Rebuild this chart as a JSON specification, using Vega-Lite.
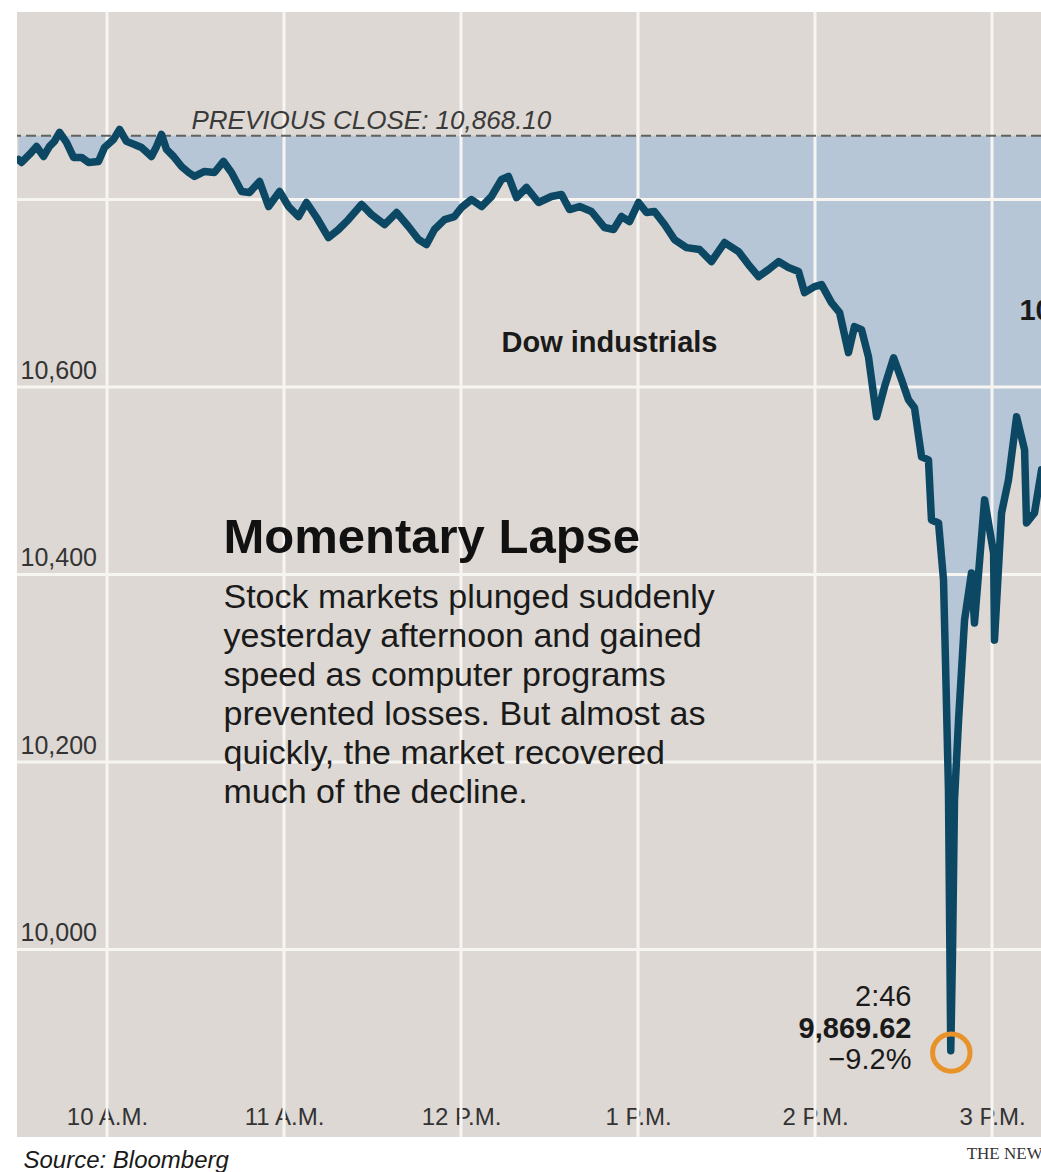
{
  "$schema": "https://vega.github.io/schema/vega-lite/v6.json",
  "width": 1024,
  "height": 1125,
  "autosize": {"type": "none"},
  "padding": {"left": 17, "top": 12, "right": 0, "bottom": 35},
  "background": "#ffffff",
  "config": {
    "view": {"fill": "#ddd8d3", "stroke": null},
    "font": "Liberation Sans"
  },
  "datasets": {
    "dow": [
      {"hour": 9.5, "v": 10842.7},
      {"hour": 9.517, "v": 10839.5},
      {"hour": 9.562, "v": 10848.1},
      {"hour": 9.602, "v": 10856.6},
      {"hour": 9.641, "v": 10845.9},
      {"hour": 9.675, "v": 10856.6},
      {"hour": 9.703, "v": 10862.0},
      {"hour": 9.732, "v": 10871.6},
      {"hour": 9.771, "v": 10860.9},
      {"hour": 9.811, "v": 10844.9},
      {"hour": 9.856, "v": 10844.9},
      {"hour": 9.896, "v": 10839.5},
      {"hour": 9.952, "v": 10840.6},
      {"hour": 9.986, "v": 10855.5},
      {"hour": 10.037, "v": 10864.1},
      {"hour": 10.071, "v": 10874.8},
      {"hour": 10.110, "v": 10862.0},
      {"hour": 10.155, "v": 10858.7},
      {"hour": 10.195, "v": 10855.5},
      {"hour": 10.251, "v": 10845.9},
      {"hour": 10.280, "v": 10856.6},
      {"hour": 10.308, "v": 10869.4},
      {"hour": 10.336, "v": 10853.4},
      {"hour": 10.376, "v": 10845.9},
      {"hour": 10.421, "v": 10835.2},
      {"hour": 10.461, "v": 10828.8},
      {"hour": 10.494, "v": 10824.6},
      {"hour": 10.551, "v": 10829.9},
      {"hour": 10.607, "v": 10828.8},
      {"hour": 10.658, "v": 10840.6},
      {"hour": 10.703, "v": 10828.8},
      {"hour": 10.760, "v": 10808.5},
      {"hour": 10.805, "v": 10807.5},
      {"hour": 10.862, "v": 10819.2},
      {"hour": 10.913, "v": 10792.5},
      {"hour": 10.975, "v": 10808.5},
      {"hour": 11.026, "v": 10792.5},
      {"hour": 11.082, "v": 10781.8},
      {"hour": 11.127, "v": 10796.8},
      {"hour": 11.184, "v": 10780.8},
      {"hour": 11.251, "v": 10759.4},
      {"hour": 11.308, "v": 10768.0},
      {"hour": 11.364, "v": 10778.6},
      {"hour": 11.438, "v": 10794.7},
      {"hour": 11.494, "v": 10784.0},
      {"hour": 11.568, "v": 10773.3},
      {"hour": 11.636, "v": 10786.1},
      {"hour": 11.703, "v": 10771.2},
      {"hour": 11.760, "v": 10757.3},
      {"hour": 11.805, "v": 10751.9},
      {"hour": 11.850, "v": 10768.0},
      {"hour": 11.907, "v": 10778.6},
      {"hour": 11.963, "v": 10781.8},
      {"hour": 12.003, "v": 10791.5},
      {"hour": 12.059, "v": 10800.0},
      {"hour": 12.116, "v": 10792.5},
      {"hour": 12.172, "v": 10803.2},
      {"hour": 12.229, "v": 10821.4},
      {"hour": 12.268, "v": 10824.6},
      {"hour": 12.314, "v": 10802.1},
      {"hour": 12.370, "v": 10812.8},
      {"hour": 12.438, "v": 10796.8},
      {"hour": 12.511, "v": 10803.2},
      {"hour": 12.568, "v": 10805.3},
      {"hour": 12.613, "v": 10789.3},
      {"hour": 12.670, "v": 10792.5},
      {"hour": 12.737, "v": 10787.2},
      {"hour": 12.811, "v": 10770.1},
      {"hour": 12.862, "v": 10768.0},
      {"hour": 12.907, "v": 10781.8},
      {"hour": 12.952, "v": 10776.5},
      {"hour": 13.003, "v": 10796.8},
      {"hour": 13.048, "v": 10786.1},
      {"hour": 13.093, "v": 10787.2},
      {"hour": 13.150, "v": 10773.3},
      {"hour": 13.206, "v": 10757.3},
      {"hour": 13.274, "v": 10748.7},
      {"hour": 13.348, "v": 10746.6},
      {"hour": 13.415, "v": 10733.8},
      {"hour": 13.489, "v": 10754.1},
      {"hour": 13.568, "v": 10744.5},
      {"hour": 13.624, "v": 10730.6},
      {"hour": 13.681, "v": 10717.8},
      {"hour": 13.737, "v": 10725.2},
      {"hour": 13.794, "v": 10733.8},
      {"hour": 13.850, "v": 10727.4},
      {"hour": 13.907, "v": 10723.1},
      {"hour": 13.941, "v": 10700.7},
      {"hour": 13.997, "v": 10707.1},
      {"hour": 14.037, "v": 10709.2},
      {"hour": 14.093, "v": 10690.0},
      {"hour": 14.139, "v": 10679.3},
      {"hour": 14.189, "v": 10636.6},
      {"hour": 14.223, "v": 10664.4},
      {"hour": 14.263, "v": 10661.1},
      {"hour": 14.302, "v": 10632.3},
      {"hour": 14.348, "v": 10568.2},
      {"hour": 14.393, "v": 10600.3},
      {"hour": 14.444, "v": 10631.2},
      {"hour": 14.489, "v": 10607.7},
      {"hour": 14.528, "v": 10586.4},
      {"hour": 14.562, "v": 10577.8},
      {"hour": 14.602, "v": 10525.5},
      {"hour": 14.641, "v": 10522.3},
      {"hour": 14.658, "v": 10458.2},
      {"hour": 14.698, "v": 10455.0},
      {"hour": 14.726, "v": 10394.1},
      {"hour": 14.737, "v": 10308.7},
      {"hour": 14.754, "v": 10169.8},
      {"hour": 14.767, "v": 9892.0},
      {"hour": 14.777, "v": 9998.9},
      {"hour": 14.788, "v": 10159.1},
      {"hour": 14.811, "v": 10244.6},
      {"hour": 14.845, "v": 10351.4},
      {"hour": 14.884, "v": 10401.6},
      {"hour": 14.901, "v": 10348.2},
      {"hour": 14.958, "v": 10479.6},
      {"hour": 15.009, "v": 10422.9},
      {"hour": 15.014, "v": 10330.0},
      {"hour": 15.054, "v": 10465.7},
      {"hour": 15.093, "v": 10500.9},
      {"hour": 15.139, "v": 10568.2},
      {"hour": 15.184, "v": 10533.0},
      {"hour": 15.195, "v": 10455.0},
      {"hour": 15.240, "v": 10465.7},
      {"hour": 15.280, "v": 10511.6},
      {"hour": 15.308, "v": 10500.9}
    ]
  },
  "layer": [
    {
      "data": {"name": "dow"},
      "mark": {"type": "area", "color": "#b6c6d6", "clip": true},
      "encoding": {
        "x": {
          "field": "hour", "type": "quantitative",
          "scale": {"domain": [9.4915, 15.2768], "nice": false, "zero": false},
          "axis": {
            "title": null, "grid": false, "domain": false, "ticks": false, "tickSize": 0,
            "values": [10, 11, 12, 13, 14, 15],
            "labelExpr": "(datum.value % 12 == 0 ? 12 : datum.value % 12) + (datum.value < 12 ? ' A.M.' : ' P.M.')",
            "labelPadding": -13, "labelBaseline": "alphabetic", "labelFlush": false, "labelOverlap": false,
            "labelFont": "Liberation Sans", "labelFontSize": 24, "labelColor": "#333333"
          }
        },
        "y": {
          "field": "v", "type": "quantitative",
          "scale": {"domain": [9800, 11000], "nice": false, "zero": false},
          "axis": {
            "title": null, "grid": false, "domain": false, "ticks": false, "tickSize": 0,
            "values": [10000, 10200, 10400, 10600], "format": ",d",
            "labelAlign": "left", "labelPadding": -3, "labelBaseline": "alphabetic", "labelOffset": -9,
            "labelFont": "Liberation Sans", "labelFontSize": 25, "labelColor": "#333333"
          }
        },
        "y2": {"datum": 10868.1}
      }
    },
    {
      "data": {"values": [{"g": 10000}, {"g": 10200}, {"g": 10400}, {"g": 10600}, {"g": 10800}]},
      "mark": {"type": "rule", "color": "#f7f5f2", "strokeWidth": 3},
      "encoding": {"y": {"field": "g", "type": "quantitative"}}
    },
    {
      "data": {"values": [{"h": 10}, {"h": 11}, {"h": 12}, {"h": 13}, {"h": 14}, {"h": 15}]},
      "mark": {"type": "rule", "color": "#f7f5f2", "strokeWidth": 3},
      "encoding": {"x": {"field": "h", "type": "quantitative"}}
    },
    {
      "data": {"values": [{}]},
      "mark": {"type": "rule", "color": "#626262", "strokeWidth": 2, "strokeDash": [10, 5]},
      "encoding": {"y": {"datum": 10868.1}}
    },
    {
      "data": {"name": "dow"},
      "mark": {"type": "line", "color": "#0c4864", "strokeWidth": 7.5, "strokeJoin": "round", "strokeCap": "round", "clip": true},
      "encoding": {
        "x": {"field": "hour", "type": "quantitative"},
        "y": {"field": "v", "type": "quantitative"}
      }
    },
    {
      "data": {"values": [{}]},
      "mark": {"type": "point", "shape": "circle", "filled": false, "stroke": "#e8932a", "strokeWidth": 5, "size": 1400, "opacity": 1},
      "encoding": {
        "x": {"datum": 14.77},
        "y": {"datum": 9890}
      }
    },
    {
      "data": {"values": [{}]},
      "mark": {"type": "text", "align": "left", "baseline": "alphabetic", "font": "Liberation Sans", "fontSize": 26, "fontStyle": "italic", "color": "#3a3a3a"},
      "encoding": {
        "x": {"datum": 10.477},
        "y": {"datum": 10874.8},
        "text": {"value": "PREVIOUS CLOSE: 10,868.10"}
      }
    },
    {
      "data": {"values": [{}]},
      "mark": {"type": "text", "align": "left", "baseline": "alphabetic", "font": "Liberation Sans", "fontSize": 29, "fontWeight": "bold", "color": "#1a1a1a"},
      "encoding": {
        "x": {"datum": 12.229},
        "y": {"datum": 10637.6},
        "text": {"value": "Dow industrials"}
      }
    },
    {
      "data": {"values": [{}]},
      "mark": {"type": "text", "align": "left", "baseline": "alphabetic", "font": "Liberation Sans", "fontSize": 29, "fontWeight": "bold", "color": "#1a1a1a"},
      "encoding": {
        "x": {"datum": 15.155},
        "y": {"datum": 10671.8},
        "text": {"value": "10,520.32"}
      }
    },
    {
      "data": {"values": [{}]},
      "mark": {"type": "text", "align": "left", "baseline": "alphabetic", "font": "Liberation Sans", "fontSize": 49, "fontWeight": "bold", "color": "#111111"},
      "encoding": {
        "x": {"datum": 10.658},
        "y": {"datum": 10423},
        "text": {"value": "Momentary Lapse"}
      }
    },
    {
      "data": {"values": [{}]},
      "mark": {"type": "text", "align": "left", "baseline": "alphabetic", "font": "Liberation Sans", "fontSize": 34, "lineHeight": 39, "color": "#1a1a1a"},
      "encoding": {
        "x": {"datum": 10.658},
        "y": {"datum": 10364.2},
        "text": {"value": ["Stock markets plunged suddenly", "yesterday afternoon and gained", "speed as computer programs", "prevented losses. But almost as", "quickly, the market recovered", "much of the decline."]}
      }
    },
    {
      "data": {"values": [{}]},
      "mark": {"type": "text", "align": "right", "baseline": "alphabetic", "font": "Liberation Sans", "fontSize": 29, "color": "#1a1a1a"},
      "encoding": {
        "x": {"datum": 14.545},
        "y": {"datum": 9940.2},
        "text": {"value": "2:46"}
      }
    },
    {
      "data": {"values": [{}]},
      "mark": {"type": "text", "align": "right", "baseline": "alphabetic", "font": "Liberation Sans", "fontSize": 29, "fontWeight": "bold", "color": "#1a1a1a"},
      "encoding": {
        "x": {"datum": 14.545},
        "y": {"datum": 9906.0},
        "text": {"value": "9,869.62"}
      }
    },
    {
      "data": {"values": [{}]},
      "mark": {"type": "text", "align": "right", "baseline": "alphabetic", "font": "Liberation Sans", "fontSize": 29, "color": "#1a1a1a"},
      "encoding": {
        "x": {"datum": 14.545},
        "y": {"datum": 9872.9},
        "text": {"value": "−9.2%"}
      }
    },
    {
      "data": {"values": [{}]},
      "mark": {"type": "text", "align": "left", "baseline": "alphabetic", "font": "Liberation Sans", "fontSize": 24, "fontStyle": "italic", "color": "#1a1a1a"},
      "encoding": {
        "x": {"datum": 9.528},
        "y": {"datum": 9767.2},
        "text": {"value": "Source: Bloomberg"}
      }
    },
    {
      "data": {"values": [{}]},
      "mark": {"type": "text", "align": "left", "baseline": "alphabetic", "font": "Liberation Serif", "fontSize": 17, "color": "#333333"},
      "encoding": {
        "x": {"datum": 14.857},
        "y": {"datum": 9776.8},
        "text": {"value": "THE NEW YORK TIMES"}
      }
    }
  ]
}
